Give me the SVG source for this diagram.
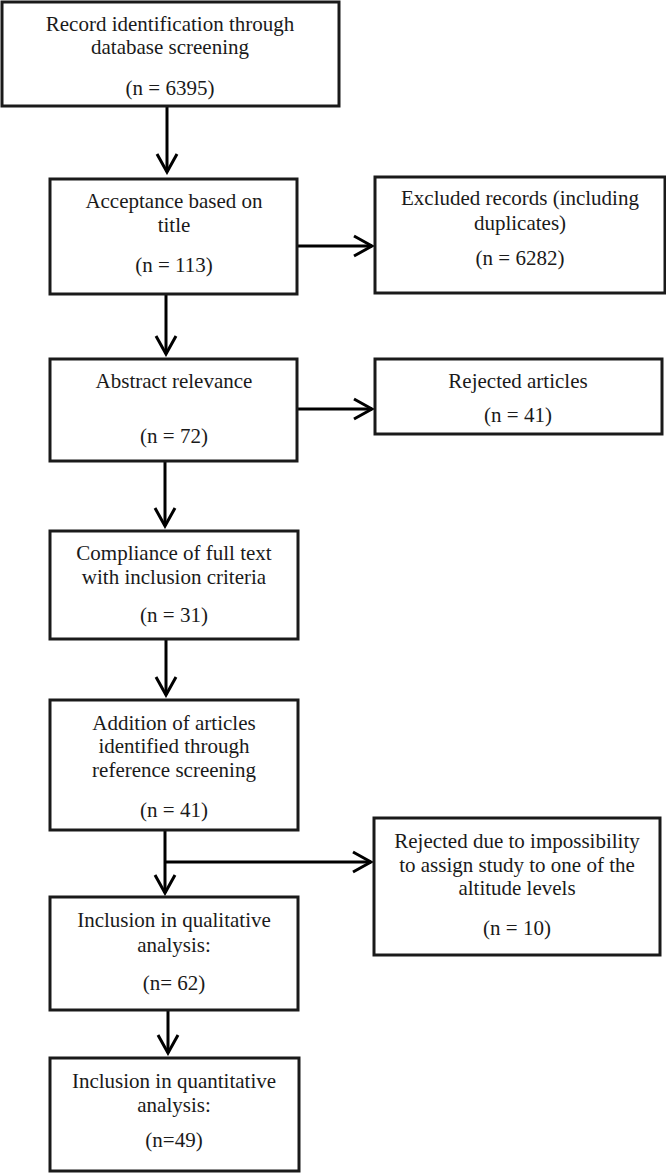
<svg xmlns="http://www.w3.org/2000/svg" width="666" height="1173" viewBox="0 0 666 1173">
<defs>
<marker id="arr" viewBox="0 0 24 24" refX="21" refY="12" markerWidth="24" markerHeight="24" markerUnits="userSpaceOnUse" orient="auto">
<path d="M3,2 L21,12 L3,22" fill="none" stroke="#000" stroke-width="3"/>
</marker>
<style>
rect{fill:#fff;stroke:#1a1a1a;stroke-width:3}
text{font-family:"Liberation Serif","Times New Roman",serif;font-size:21px;fill:#1a1a1a;text-anchor:middle}
.c{fill:none;stroke:#000;stroke-width:3}
</style>
</defs>
<rect x="0" y="0" width="666" height="1173" style="stroke:none"/>
<g id="connectors">
<line class="c" x1="167" y1="106" x2="167" y2="172" marker-end="url(#arr)"/>
<line class="c" x1="297" y1="246" x2="372" y2="246" marker-end="url(#arr)"/>
<line class="c" x1="166" y1="294" x2="166" y2="354" marker-end="url(#arr)"/>
<line class="c" x1="297" y1="409" x2="372" y2="409" marker-end="url(#arr)"/>
<line class="c" x1="165" y1="461" x2="165" y2="526" marker-end="url(#arr)"/>
<line class="c" x1="166" y1="639" x2="166" y2="695" marker-end="url(#arr)"/>
<line class="c" x1="165" y1="830" x2="165" y2="893" marker-end="url(#arr)"/>
<line class="c" x1="165" y1="862" x2="371" y2="862" marker-end="url(#arr)"/>
<line class="c" x1="168" y1="1010" x2="168" y2="1053" marker-end="url(#arr)"/>
</g>
<g id="n1">
<rect x="2" y="2" width="337" height="104"/>
<text x="170" y="31">Record identification through</text>
<text x="170" y="54">database screening</text>
<text x="170" y="95">(n = 6395)</text>
</g>
<g id="n2">
<rect x="50" y="179" width="247" height="115"/>
<text x="174" y="208">Acceptance based on</text>
<text x="174" y="232">title</text>
<text x="174" y="272">(n = 113)</text>
</g>
<g id="n3">
<rect x="375" y="177" width="290" height="116"/>
<text x="520" y="205">Excluded records (including</text>
<text x="520" y="230">duplicates)</text>
<text x="520" y="265">(n = 6282)</text>
</g>
<g id="n4">
<rect x="50" y="359" width="247" height="102"/>
<text x="174" y="388">Abstract relevance</text>
<text x="174" y="443">(n = 72)</text>
</g>
<g id="n5">
<rect x="375" y="359" width="287" height="75"/>
<text x="518" y="388">Rejected articles</text>
<text x="518" y="422">(n = 41)</text>
</g>
<g id="n6">
<rect x="50" y="531" width="248" height="108"/>
<text x="174" y="560">Compliance of full text</text>
<text x="174" y="584">with inclusion criteria</text>
<text x="174" y="622">(n = 31)</text>
</g>
<g id="n7">
<rect x="50" y="700" width="248" height="130"/>
<text x="174" y="730">Addition of articles</text>
<text x="174" y="753">identified through</text>
<text x="174" y="777">reference screening</text>
<text x="174" y="817">(n = 41)</text>
</g>
<g id="n8">
<rect x="374" y="818" width="286" height="137"/>
<text x="517" y="848">Rejected due to impossibility</text>
<text x="517" y="872">to assign study to one of the</text>
<text x="517" y="895">altitude levels</text>
<text x="517" y="935">(n = 10)</text>
</g>
<g id="n9">
<rect x="50" y="897" width="248" height="113"/>
<text x="174" y="927">Inclusion in qualitative</text>
<text x="174" y="952">analysis:</text>
<text x="174" y="990">(n= 62)</text>
</g>
<g id="n10">
<rect x="50" y="1058" width="249" height="113"/>
<text x="174" y="1088">Inclusion in quantitative</text>
<text x="174" y="1112">analysis:</text>
<text x="174" y="1147">(n=49)</text>
</g>
</svg>
